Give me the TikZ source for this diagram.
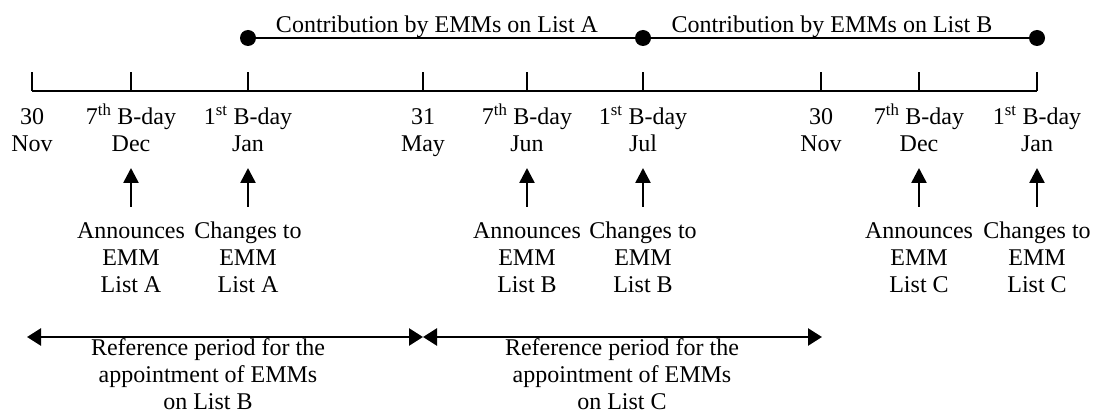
\documentclass[tikz,border=0pt]{standalone}
\usepackage{fontspec}
\setmainfont{Liberation Serif}
\usetikzlibrary{arrows.meta}
\begin{document}
\begin{tikzpicture}[x=1pt,y=-1pt,
  lbl/.style={font=\fontsize{24}{27}\selectfont, align=center, inner sep=0pt, anchor=base},
  axisline/.style={line width=2.2pt},
  tickline/.style={line width=2.2pt},
  uparrow/.style={line width=2.6pt,-{Triangle[length=15pt,width=15pt]}},
  refarrow/.style={line width=2.6pt,{Triangle[length=14pt,width=17pt]}-{Triangle[length=14pt,width=17pt]}},
  contrib/.style={line width=2.8pt},
  enddot/.style={circle,fill=black,inner sep=0pt,minimum size=16pt}]
\useasboundingbox (0,0) rectangle (1096,414);
% axis
\foreach \n/\x in {1/32,2/131,3/248,4/423,5/527,6/643,7/821,8/919,9/1037}{
  \coordinate (t\n) at (\x,91);
  \coordinate (h\n) at (\x,72);
}
\draw[axisline] (t1) -- (t9);
\foreach \n in {1,...,9}{ \draw[tickline] (t\n) -- (h\n); }
% contribution line
\node[enddot] (d1) at (248,38) {};
\node[enddot] (d2) at (643,38) {};
\node[enddot] (d3) at (1037,38) {};
\draw[contrib] (d1) -- (d2) -- (d3);
\node[lbl] (ca) at (437,33) {Contribution by EMMs on List A};
\node[lbl] (cb) at (832,33) {Contribution by EMMs on List B};
% tick labels
\node[lbl] (l1) at (32,152) {30\\Nov};
\node[lbl] (l2) at (131,152) {7\textsuperscript{th} B-day\\Dec};
\node[lbl] (l3) at (248,152) {1\textsuperscript{st} B-day\\Jan};
\node[lbl] (l4) at (423,152) {31\\May};
\node[lbl] (l5) at (527,152) {7\textsuperscript{th} B-day\\Jun};
\node[lbl] (l6) at (643,152) {1\textsuperscript{st} B-day\\Jul};
\node[lbl] (l7) at (821,152) {30\\Nov};
\node[lbl] (l8) at (919,152) {7\textsuperscript{th} B-day\\Dec};
\node[lbl] (l9) at (1037,152) {1\textsuperscript{st} B-day\\Jan};
% events
\node[lbl] (e2) at (131,293) {Announces\\EMM\\List A};
\node[lbl] (e3) at (248,293) {Changes to\\EMM\\List A};
\node[lbl] (e5) at (527,293) {Announces\\EMM\\List B};
\node[lbl] (e6) at (643,293) {Changes to\\EMM\\List B};
\node[lbl] (e8) at (919,293) {Announces\\EMM\\List C};
\node[lbl] (e9) at (1037,293) {Changes to\\EMM\\List C};
\foreach \n in {2,3,5,6,8,9}{
  \draw[uparrow] (e\n.north |- 0,207) -- (e\n.north |- 0,168);
}
% reference periods
\coordinate (r1) at (27,337);
\coordinate (r2) at (423,337);
\coordinate (r3) at (822,337);
\draw[refarrow] (r1) -- (r2);
\draw[refarrow] (r2) -- (r3);
\node[lbl] (p1) at (208,409) {Reference period for the\\appointment of EMMs\\on List B};
\node[lbl] (p2) at (622,409) {Reference period for the\\appointment of EMMs\\on List C};
\end{tikzpicture}
\end{document}
